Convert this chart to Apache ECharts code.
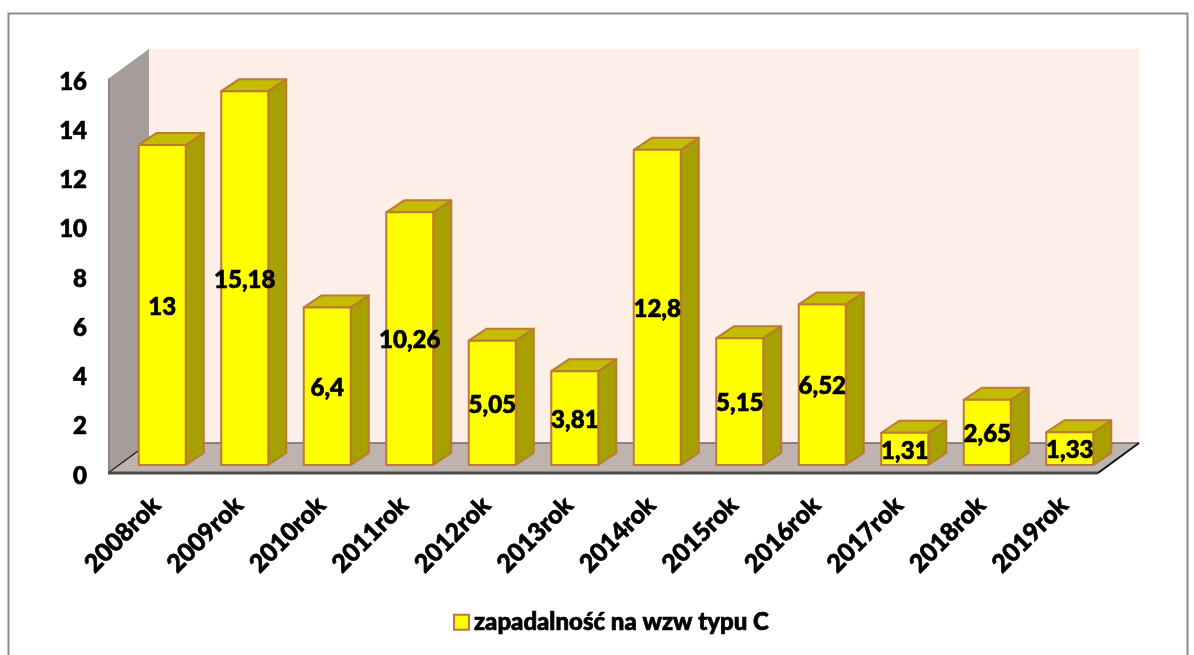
<!DOCTYPE html>
<html>
<head>
<meta charset="utf-8">
<style>
  html, body { margin: 0; padding: 0; background: #fff; }
  #main { width: 1194px; height: 655px; }
</style>
<script src="https://cdn.jsdelivr.net/npm/echarts@6/dist/echarts.min.js"></script>
</head>
<body>
<div id="main"></div>
<script>
var categories = ['2008rok', '2009rok', '2010rok', '2011rok', '2012rok', '2013rok',
  '2014rok', '2015rok', '2016rok', '2017rok', '2018rok', '2019rok'];
var values = [13, 15.18, 6.4, 10.26, 5.05, 3.81, 12.8, 5.15, 6.52, 1.31, 2.65, 1.33];
var yTicks = { min: 0, max: 16, interval: 2 };
var seriesName = 'zapadalność na wzw typu C';

var fontFamily = 'Lato, "Open Sans", sans-serif';

/* pseudo 3d box geometry, px */
var wallDx = 41, wallDy = -30;
var barWidth = 47, barDx = 13, barDy = -8, sideDx = 18, sideDy = -12;

function poly(points, fill, stroke, lineWidth) {
  return {
    type: 'polygon',
    shape: { points: points },
    style: { fill: fill, stroke: stroke || null, lineWidth: lineWidth || 0, lineJoin: 'round' }
  };
}

function line(x1, y1, x2, y2, color, width) {
  return {
    type: 'line',
    shape: { x1: x1, y1: y1, x2: x2, y2: y2 },
    style: { stroke: color, lineWidth: width }
  };
}

function renderWalls(params, api) {
  var x0 = params.coordSys.x, x1 = x0 + params.coordSys.width;
  var yBottom = api.coord([0, yTicks.min])[1];
  var yTop = api.coord([0, yTicks.max])[1];
  var bx0 = x0 + wallDx, bx1 = x1 + wallDx;
  var by0 = yBottom + wallDy, byTop = yTop + wallDy;
  return {
    type: 'group',
    children: [
      poly([[bx0, byTop], [bx1, byTop], [bx1, by0], [bx0, by0]], '#fdeee8'),
      poly([[x0, yTop], [bx0, byTop], [bx0, by0], [x0, yBottom]], '#a49d99'),
      poly([[x0, yTop], [x0 + 2, yTop - 1.5], [x0 + 2, yBottom], [x0, yBottom]], '#8c8987'),
      poly([[x0, yBottom], [bx0, by0], [bx1, by0], [x1, yBottom]], '#bfb3b0'),
      line(bx0, by0, bx1, by0, '#6e6a68', 1.5),
      line(x0, yBottom, bx0, by0, '#222', 1.5),
      line(x1, yBottom, bx1, by0, '#111', 2),
      line(x0, yBottom, x1, yBottom, '#4a4a4a', 3)
    ]
  };
}

function renderBox(params, api) {
  var base = api.coord([api.value(0), 0]);
  var top = api.coord([api.value(0), api.value(1)]);
  var xl = base[0] + barDx - barWidth / 2;
  var xr = xl + barWidth;
  var yb = base[1] + barDy;
  var yt = top[1] + barDy;
  var edge = '#bd7a33';
  return {
    type: 'group',
    children: [
      poly([[xr, yt], [xr + sideDx, yt + sideDy], [xr + sideDx, yb + sideDy], [xr, yb]], '#a6a000', edge, 2),
      poly([[xl, yt], [xl + sideDx, yt + sideDy], [xr + sideDx, yt + sideDy], [xr, yt]], '#c4bc00', edge, 2),
      poly([[xl, yt], [xr, yt], [xr, yb], [xl, yb]], '#ffff00', edge, 2),
      {
        type: 'text',
        x: (xl + xr) / 2,
        y: (yt + yb) / 2 + 2,
        style: {
          text: String(api.value(1)).replace('.', ','),
          fill: '#000',
          stroke: '#000',
          lineWidth: 0.7,
          font: '900 24px ' + fontFamily,
          align: 'center',
          verticalAlign: 'middle'
        }
      }
    ]
  };
}

var chart = echarts.init(document.getElementById('main'), null, { renderer: 'canvas' });
chart.setOption({
  animation: false,
  backgroundColor: '#fff',
  graphic: [{
    type: 'rect',
    shape: { x: 8.5, y: 13.5, width: 1179, height: 660 },
    style: { fill: 'none', stroke: '#8c8c8c', lineWidth: 2 },
    silent: true
  }],
  grid: { left: 108, top: 79, width: 990, height: 394, containLabel: false },
  legend: {
    left: 453,
    top: 610,
    padding: 0,
    itemWidth: 15,
    itemHeight: 15,
    textStyle: {
      color: '#000', fontFamily: fontFamily, fontWeight: 900, fontSize: 24,
      textBorderColor: '#000', textBorderWidth: 0.7
    },
    data: [{
      name: seriesName,
      icon: 'rect',
      itemStyle: { color: '#ffff00', borderColor: '#bd7a33', borderWidth: 2 }
    }]
  },
  xAxis: {
    type: 'category',
    data: categories,
    axisLine: { show: false },
    axisTick: { show: false },
    splitLine: { show: false },
    axisLabel: {
      interval: 0,
      rotate: 45,
      margin: 21,
      verticalAlign: 'top',
      lineHeight: 20,
      color: '#000',
      fontFamily: fontFamily,
      fontWeight: 900,
      fontSize: 25,
      textBorderColor: '#000',
      textBorderWidth: 0.7
    }
  },
  yAxis: {
    type: 'value',
    min: yTicks.min,
    max: yTicks.max,
    interval: yTicks.interval,
    axisLine: { show: false },
    axisTick: { show: false },
    splitLine: { show: false },
    axisLabel: {
      margin: 21,
      verticalAlign: 'top',
      lineHeight: 6,
      color: '#000',
      fontFamily: fontFamily,
      fontWeight: 900,
      fontSize: 24,
      textBorderColor: '#000',
      textBorderWidth: 0.7
    }
  },
  series: [
    {
      type: 'custom',
      name: 'walls',
      silent: true,
      clip: false,
      z: 1,
      renderItem: renderWalls,
      data: [[0, 0]]
    },
    {
      type: 'custom',
      name: seriesName,
      clip: false,
      z: 2,
      renderItem: renderBox,
      encode: { x: 0, y: 1 },
      data: values.map(function(v, i) { return [i, v]; })
    }
  ]
});
</script>
</body>
</html>
